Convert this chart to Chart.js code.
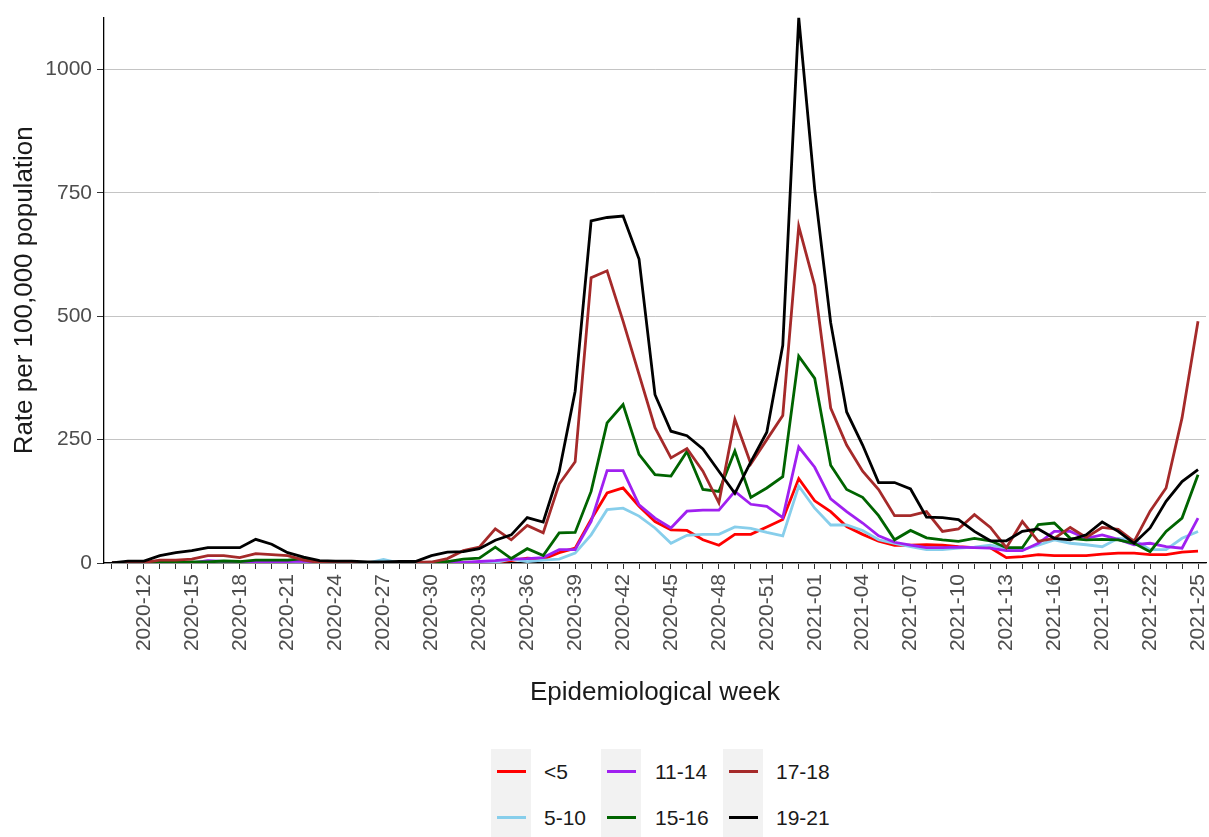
<!DOCTYPE html>
<html>
<head>
<meta charset="utf-8">
<title>Rate per 100,000 population by age group</title>
<script src="https://cdn.jsdelivr.net/npm/chart.js@4.4.1/dist/chart.umd.min.js"></script>
<style>
  html, body { margin: 0; padding: 0; background: #fff; }
  #wrap { position: relative; width: 1209px; height: 837px; overflow: hidden;
          font-family: "Liberation Sans", Arial, sans-serif; }
  #box { position: absolute; left: 0; top: 0; width: 1209px; height: 712px; }
  .key { position: absolute; width: 40px; height: 46px; background: #f2f2f2; }
  .key span { position: absolute; left: 6px; top: 21px; width: 29px; height: 3px; }
  .lab { position: absolute; font-size: 21px; line-height: 46px; color: #1a1a1a; white-space: nowrap; }
</style>
</head>
<body>
<div id="wrap">
  <div id="box"><canvas id="myChart"></canvas></div>
  <div id="legend"></div>
</div>
<script>
// epidemiological weeks (x categories)
var weeks = [
  "2020-10","2020-11","2020-12","2020-13","2020-14","2020-15","2020-16","2020-17","2020-18","2020-19",
  "2020-20","2020-21","2020-22","2020-23","2020-24","2020-25","2020-26","2020-27","2020-28","2020-29",
  "2020-30","2020-31","2020-32","2020-33","2020-34","2020-35","2020-36","2020-37","2020-38","2020-39",
  "2020-40","2020-41","2020-42","2020-43","2020-44","2020-45","2020-46","2020-47","2020-48","2020-49",
  "2020-50","2020-51","2020-52","2020-53","2021-01","2021-02","2021-03","2021-04","2021-05","2021-06",
  "2021-07","2021-08","2021-09","2021-10","2021-11","2021-12","2021-13","2021-14","2021-15","2021-16",
  "2021-17","2021-18","2021-19","2021-20","2021-21","2021-22","2021-23","2021-24","2021-25"
];
// week labels written under the axis
var shownTicks = [
  "2020-12","2020-15","2020-18","2020-21","2020-24","2020-27","2020-30","2020-33","2020-36","2020-39",
  "2020-42","2020-45","2020-48","2020-51","2021-01","2021-04","2021-07","2021-10","2021-13","2021-16",
  "2021-19","2021-22","2021-25"
];
var yTicks = [0, 250, 500, 750, 1000];

var groups = ["<5", "5-10", "11-14", "15-16", "17-18", "19-21"];
var colours = ["#ff0000", "#87ceeb", "#a020f0", "#006400", "#a52a2a", "#000000"];

// rates per 100,000, one value per week
var under5 = [
  0,0,0,0,1,1,1,1,1,1,
  1,1,1,0,0,0,0,0,0,0,
  0,1,1,1,2,5,10,8,21,30,
  88,142,152,115,84,67,66,47,36,58,
  58,73,88,171,126,104,74,58,44,36,
  36,37,36,33,31,31,11,13,17,15,
  15,15,18,20,20,17,17,22,24
];
var age5to10 = [
  0,0,0,0,0,0,0,0,0,0,
  0,0,0,0,0,0,0,7,0,0,
  0,0,0,1,1,8,3,6,8,20,
  57,108,111,95,71,40,56,58,58,73,
  70,62,55,156,111,77,77,66,47,40,
  33,27,27,30,32,36,30,27,36,47,
  40,37,33,50,47,27,27,50,64
];
var age11to14 = [
  0,0,0,0,0,0,5,3,2,3,
  3,3,4,1,0,0,0,0,0,0,
  0,1,1,3,5,8,9,11,27,27,
  84,187,187,118,91,71,105,107,107,145,
  119,115,92,235,194,130,104,81,55,42,
  36,31,31,32,31,30,25,25,40,64,
  64,50,57,48,37,40,33,30,91
];
var age15to16 = [
  0,0,0,1,1,2,2,4,3,6,
  6,6,9,1,0,0,0,0,0,1,
  1,3,8,10,32,9,29,15,61,62,
  145,284,321,220,179,176,226,149,145,227,
  133,152,175,419,374,198,149,133,96,47,
  66,51,47,44,50,45,31,31,78,81,
  50,47,48,47,40,23,64,91,179
];
var age17to18 = [
  0,0,1,6,6,8,15,15,11,19,
  17,15,6,1,0,0,0,0,1,1,
  2,9,25,32,69,47,76,61,160,205,
  578,592,490,382,274,213,232,186,122,291,
  201,250,299,682,562,314,239,186,149,96,
  96,104,64,69,98,72,31,84,44,50,
  72,52,72,68,44,105,152,294,490
];
var age19to21 = [
  0,4,4,15,21,25,31,31,31,48,
  38,21,12,5,4,4,2,2,3,3,
  15,22,23,29,46,57,92,83,185,348,
  693,700,703,616,341,267,258,231,186,141,
  205,265,441,1105,757,487,306,239,163,163,
  150,93,92,88,64,45,45,64,69,50,
  47,57,83,64,40,71,125,165,189
];
var series = [under5, age5to10, age11to14, age15to16, age17to18, age19to21];

Chart.defaults.font.family = '"Liberation Sans", Arial, sans-serif';

var datasets = groups.map(function (g, i) {
  return {
    label: g,
    data: series[i],
    borderColor: colours[i],
    backgroundColor: colours[i],
    borderWidth: 2.8,
    pointRadius: 0,
    tension: 0,
    order: groups.length - i   // later groups drawn on top, like ggplot
  };
});

var chart = new Chart("myChart", {
  type: "line",
  data: { labels: weeks, datasets: datasets },
  options: {
    responsive: true,
    maintainAspectRatio: false,
    animation: false,
    devicePixelRatio: 1,
    layout: { padding: { left: 0, top: 15, right: 3, bottom: 0 } },
    plugins: { legend: { display: false }, tooltip: { enabled: false } },
    scales: {
      x: {
        offset: true,
        afterFit: function (s) { s.height = 149; s.paddingLeft = 0; s.paddingRight = 0; },
        ticks: {
          autoSkip: false, maxRotation: 90, minRotation: 90,
          color: "#4d4d4d", font: { size: 21 }, padding: 5,
          callback: function (v, i) { return shownTicks.indexOf(weeks[i]) >= 0 ? weeks[i] : ""; }
        },
        grid: { drawOnChartArea: false, drawTicks: true, tickLength: 6, tickColor: "#333", offset: false },
        border: { display: true, color: "#000", width: 1.3 },
        title: { display: true, text: "Epidemiological week", color: "#1a1a1a",
                 font: { size: 26 }, padding: { top: 4, bottom: 4 } }
      },
      y: {
        min: 0,
        max: 1105,
        afterFit: function (s) { s.width = 104; },
        afterBuildTicks: function (s) { s.ticks = yTicks.map(function (v) { return { value: v }; }); },
        ticks: { color: "#4d4d4d", font: { size: 21 }, padding: 5,
                 callback: function (v) { return String(v); } },
        grid: { color: "#c4c4c4", lineWidth: 1, drawTicks: true, tickLength: 7, tickColor: "#333" },
        border: { display: true, color: "#000", width: 1.3 },
        title: { display: true, text: "Rate per 100,000 population", color: "#1a1a1a",
                 font: { size: 26 }, padding: { top: 9, bottom: 0 } }
      }
    }
  }
});

// legend: three columns of two keys, grey key background
var keyLeft = [491, 601, 723];
var labLeft = [544, 655, 776];
var rowTop = [749, 795];
var legend = document.getElementById("legend");
chart.data.datasets.forEach(function (ds, i) {
  var col = Math.floor(i / 2), row = i % 2;
  var key = document.createElement("div");
  key.className = "key";
  key.style.left = keyLeft[col] + "px";
  key.style.top = rowTop[row] + "px";
  var ln = document.createElement("span");
  ln.style.background = ds.borderColor;
  key.appendChild(ln);
  legend.appendChild(key);
  var lab = document.createElement("div");
  lab.className = "lab";
  lab.style.left = labLeft[col] + "px";
  lab.style.top = rowTop[row] + "px";
  lab.textContent = ds.label;
  legend.appendChild(lab);
});
</script>
</body>
</html>
